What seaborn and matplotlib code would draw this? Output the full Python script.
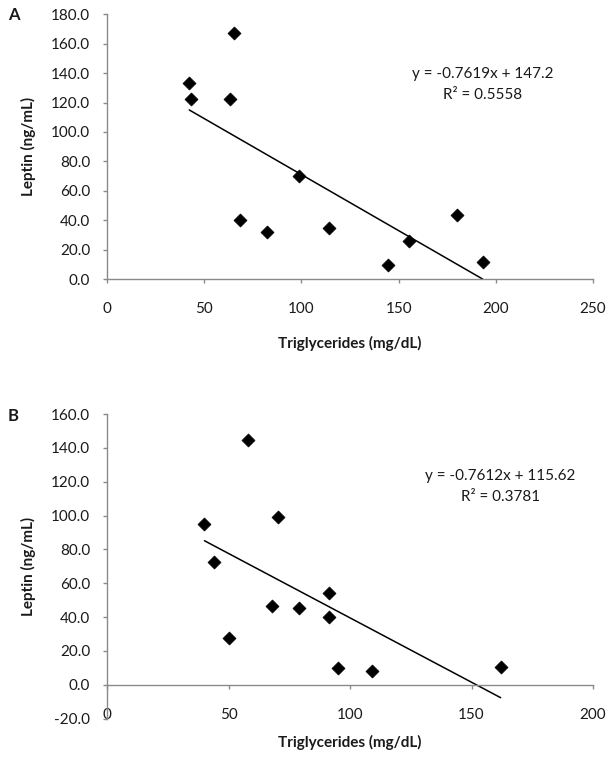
"""Leptin vs triglycerides scatter panels (A and B) with linear trend lines."""
import matplotlib
matplotlib.use("Agg")
import matplotlib.pyplot as plt
import numpy as np
import pandas as pd
import seaborn as sns

# Panel A data
tg_a = [42.3, 43.3, 65.2, 63.2, 68.2, 82.3, 99.0, 114.3, 144.3, 155.2, 180.0, 193.2]
leptin_a = [133.2, 122.1, 167.5, 122.1, 40.0, 32.2, 70.1, 35.0, 9.8, 25.6, 43.8, 11.3]
slope_a, icept_a, r2_a = -0.7619, 147.2, 0.5558

# Panel B data
tg_b = [40.1, 44.1, 50.2, 58.1, 68.1, 70.2, 79.1, 91.3, 91.3, 95.2, 109.2, 162.0]
leptin_b = [95.0, 72.3, 27.4, 144.5, 46.3, 99.3, 45.3, 54.2, 39.8, 9.9, 8.3, 10.6]
slope_b, icept_b, r2_b = -0.7612, 115.62, 0.3781

sns.set_theme(style="white")
plt.rcParams["font.family"] = ["Lato", "DejaVu Sans"]

TEXT = "#1a1a1a"
SPINE = "#8a8a8a"


def panel(ax, x, y, slope, icept, r2, eq_pos, xlim, ylim, xticks, yticks):
    df = pd.DataFrame({"tg": x, "leptin": y})
    sns.scatterplot(data=df, x="tg", y="leptin", ax=ax, marker="D",
                    color="black", s=44, edgecolor="black", linewidth=0.5,
                    zorder=3)
    xs = np.array([min(x), max(x)])
    sns.lineplot(x=xs, y=slope * xs + icept, ax=ax, color="black", lw=1.1)
    ax.set_xlim(*xlim)
    ax.set_ylim(*ylim)
    ax.set_xticks(xticks)
    ax.set_yticks(yticks)
    ax.set_yticklabels([f"{v:.1f}" for v in yticks])
    sns.despine(ax=ax)
    for side in ("left", "bottom"):
        ax.spines[side].set_color(SPINE)
        ax.spines[side].set_linewidth(1.0)
    ax.tick_params(axis="both", direction="out", length=3, width=1.0,
                   color=SPINE, labelsize=11, labelcolor=TEXT)
    ax.tick_params(axis="both", which="both", bottom=True, left=True)
    ax.tick_params(axis="x", pad=13.5)
    ax.tick_params(axis="y", pad=9.2)
    ax.set_xlabel("Triglycerides (mg/dL)", fontsize=11, fontweight="bold",
                  color=TEXT)
    ax.set_ylabel("Leptin (ng/mL)", fontsize=11, fontweight="bold",
                  color=TEXT)
    sign = "+" if icept >= 0 else "-"
    ax.text(eq_pos[0], eq_pos[1], f"y = {slope}x {sign} {abs(icept):g}",
            ha="center", va="center", fontsize=11, color=TEXT)
    ax.text(eq_pos[0], eq_pos[2], f"R\u00b2 = {r2:.4f}",
            ha="center", va="center", fontsize=11, color=TEXT)


fig = plt.figure(figsize=(6.14, 7.58), dpi=100)
ax_a = fig.add_axes([0.1743, 0.6319, 0.7915, 0.3492])
ax_b = fig.add_axes([0.1743, 0.0521, 0.7915, 0.4017])

panel(ax_a, tg_a, leptin_a, slope_a, icept_a, r2_a, (193.4, 139.4, 125.0),
      (0, 250), (0, 180), np.arange(0, 251, 50), np.arange(0, 181, 20))
ax_a.xaxis.set_label_coords(0.5, -0.215)
ax_a.yaxis.set_label_coords(-0.146, 0.5)

panel(ax_b, tg_b, leptin_b, slope_b, icept_b, r2_b, (162, 123.3, 111.1),
      (0, 200), (-20, 160), np.arange(0, 201, 50), np.arange(-20, 161, 20))
ax_b.spines["bottom"].set_position(("data", 0))
ax_b.xaxis.set_label_coords(0.5, -0.054)
ax_b.yaxis.set_label_coords(-0.146, 0.5)

fig.text(14 / 614, 1 - 15 / 758, "A", fontsize=12, fontweight="bold",
         ha="center", va="center", color=TEXT)
fig.text(13 / 614, 1 - 416 / 758, "B", fontsize=12, fontweight="bold",
         ha="center", va="center", color=TEXT)

fig.savefig("out.png", dpi=100)
